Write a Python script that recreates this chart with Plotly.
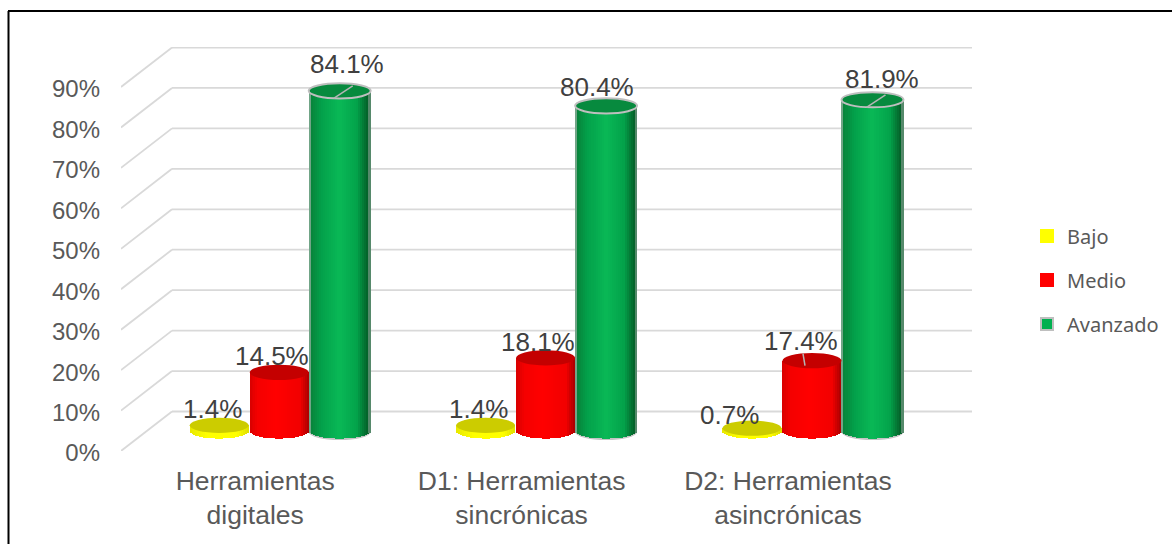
import plotly.graph_objects as go
import numpy as np

categories = ["Herramientas<br>digitales", "D1: Herramientas<br>sincrónicas", "D2: Herramientas<br>asincrónicas"]
bajo = [1.4, 1.4, 0.7]
medio = [14.5, 18.1, 17.4]
avanzado = [84.1, 80.4, 81.9]
y_ticks = [0, 10, 20, 30, 40, 50, 60, 70, 80, 90]

W, H = 1172, 544
PX_L, PX_R, PX_B, PX_T = 121, 972, 451, 47
UNIT_X = 266.4          # px per category
UNIT_Y = (451 - 87) / 90 # px per percent
DEPTH_X = 51 / UNIT_X
DEPTH_Y = 39.5 / UNIT_Y
MID_X = 25 / UNIT_X
MID_Y = 20 / UNIT_Y
ELL_H = 7.6 / UNIT_Y
STRIPS = 30

styles = [
    dict(name="Bajo", values=bajo, center_px=-60, width_px=59, top="#cccc00",
         stops=[(0, "#e8e800"), (.3, "#ffff00"), (.8, "#ffff00"), (1, "#dede00")],
         line=None, swatch="#ffff00"),
    dict(name="Medio", values=medio, center_px=0, width_px=59, top="#c40000",
         stops=[(0, "#d80000"), (.15, "#f50000"), (.45, "#ff0000"), (.85, "#f20000"), (1, "#a80000")],
         line=None, swatch="#ff0000"),
    dict(name="Avanzado", values=avanzado, center_px=60.5, width_px=62, top="#078a3e",
         stops=[(0, "#bdbdbd"), (.04, "#07843b"), (.2, "#03a04a"), (.5, "#09b856"), (.78, "#03a34b"),
                (.94, "#04672c"), (.97, "#04602a"), (1, "#bdbdbd")],
         line="#bfbfbf", swatch="#00b050"),
]
label_shift = {
    "Bajo": [(-7, 16), (-7, 16), (-23, 13)],
    "Medio": [(-7, 16), (-8, 16), (-11, 20)],
    "Avanzado": [(7, 27), (-9, 19), (9, 21)],
}


def mix(stops, t):
    for (a, ca), (b, cb) in zip(stops, stops[1:]):
        if t <= b:
            f = (t - a) / (b - a)
            c0 = [int(ca[i:i + 2], 16) for i in (1, 3, 5)]
            c1 = [int(cb[i:i + 2], 16) for i in (1, 3, 5)]
            return "#%02x%02x%02x" % tuple(round(p + (q - p) * f) for p, q in zip(c0, c1))
    return stops[-1][1]


fig = go.Figure()
shapes = []
annotations = []

# walls: front stub + back gridline per tick
back_end = 2.5 + (PX_R - PX_L - 3 * UNIT_X) / UNIT_X
for v in y_ticks:
    common = dict(type="line", xref="x", yref="y", layer="below", line=dict(color="#d9d9d9", width=1.8))
    shapes.append(dict(x0=-0.5, x1=-0.5 + DEPTH_X, y0=v, y1=v + DEPTH_Y, **common))
    shapes.append(dict(x0=-0.5 + DEPTH_X, x1=back_end, y0=v + DEPTH_Y, y1=v + DEPTH_Y, **common))

for st in styles:
    bar_w = st["width_px"] / UNIT_X
    xs, tops, bases, widths, colors = [], [], [], [], []
    for i, val in enumerate(st["values"]):
        cx = i + MID_X + st["center_px"] / UNIT_X
        y_top = MID_Y + val
        for k in range(STRIPS):
            t = (k + .5) / STRIPS
            u = 2 * t - 1
            curve = ELL_H * np.sqrt(max(0, 1 - u * u))
            xs.append(cx + u * bar_w / 2)
            bases.append(MID_Y - curve)
            tops.append(y_top)
            widths.append(bar_w / STRIPS * 1.15)
            colors.append(mix(st["stops"], t))
        # soft shadow under the outlined cylinders
        if st["line"]:
            shapes.append(dict(type="circle", xref="x", yref="y", layer="below",
                               x0=cx - bar_w / 2, x1=cx + bar_w / 2,
                               y0=MID_Y - ELL_H - 1.5 / UNIT_Y, y1=MID_Y + ELL_H,
                               fillcolor="#c4c4c4", line=dict(width=0)))
        # top cap
        cap_line = dict(color=st["line"], width=2) if st["line"] else dict(width=0)
        shapes.append(dict(type="circle", xref="x", yref="y", layer="above",
                           x0=cx - bar_w / 2, x1=cx + bar_w / 2,
                           y0=y_top - ELL_H, y1=y_top + ELL_H,
                           fillcolor=st["top"], line=cap_line))
        dx, dy = label_shift[st["name"]][i]
        annotations.append(dict(x=cx, y=y_top, xref="x", yref="y", text=f"{val:.1f}%", showarrow=False,
                                xshift=dx, yshift=dy, font=dict(family="Liberation Sans", size=26, color="#404040")))
    fig.add_trace(go.Bar(x=xs, y=[t - b for t, b in zip(tops, bases)], base=bases, width=widths,
                         marker=dict(color=colors, line=dict(width=0)), showlegend=False,
                         name=st["name"], hoverinfo="skip"))

# radial leader lines inside the caps
leaders = [(0, 84.1, 2), (2, 81.9, 2), (2, 17.4, 1)]
for i, val, s in leaders:
    cx = i + MID_X + styles[s]["center_px"] / UNIT_X
    y_top = MID_Y + val
    if s == 2:
        x0, x1, y0, y1 = cx - 6 / UNIT_X, cx + 13 / UNIT_X, y_top - ELL_H, y_top + 5 / UNIT_Y
    else:
        x0, x1, y0, y1 = cx - 7 / UNIT_X, cx - 9 / UNIT_X, y_top - 5 / UNIT_Y, y_top + 7 / UNIT_Y
    shapes.append(dict(type="line", xref="x", yref="y", layer="above", x0=x0, x1=x1, y0=y0, y1=y1,
                       line=dict(color="#b5b5b5", width=1.5)))

# legend-only entries
for k, st in enumerate(styles):
    fig.add_trace(go.Bar(x=[None], y=[None], name=st["name"], legendgroup=st["name"],
                         marker=dict(color=st["swatch"],
                                     line=dict(color=st["line"] or st["swatch"], width=2))))

# frame (top and left only are visible)
frame = dict(color="#000000", width=2)
shapes += [
    dict(type="line", xref="paper", yref="paper", x0=8.5 / W, x1=8.5 / W, y0=0, y1=1 - 11 / H, line=frame),
    dict(type="line", xref="paper", yref="paper", x0=8 / W, x1=1, y0=1 - 11 / H, y1=1 - 11 / H, line=frame),
]

fig.update_layout(
    width=W, height=H, margin=dict(l=0, r=0, t=0, b=0, pad=0, autoexpand=False),
    paper_bgcolor="white", plot_bgcolor="rgba(0,0,0,0)",
    barmode="overlay", bargap=0,
    shapes=shapes, annotations=annotations,
    xaxis=dict(domain=[PX_L / W, PX_R / W], range=[-0.5, back_end], tickvals=[0, 1, 2], ticktext=categories,
               showgrid=False, zeroline=False, showline=False, ticks="", ticklabelstandoff=11,
               ticklabelshift=1,
               tickfont=dict(family="Liberation Sans", size=26.5, color="#595959"), tickangle=0),
    yaxis=dict(domain=[1 - PX_B / H, 1 - PX_T / H], range=[0, (PX_B - PX_T) / UNIT_Y], tickvals=y_ticks,
               ticktext=[f"{v}%" for v in y_ticks], showgrid=False, zeroline=False, showline=False,
               ticks="", ticklabelstandoff=20, ticklabelshift=2,
               tickfont=dict(family="Liberation Sans", size=24, color="#595959")),
    legend=dict(x=1027 / W, y=1 - 216.5 / H, xanchor="left", yanchor="top", bgcolor="rgba(0,0,0,0)",
                tracegroupgap=15, itemwidth=30, traceorder="grouped",
                font=dict(family="Noto Sans", size=20, color="#595959")),
    showlegend=True,
)

fig.write_html("out.html", config={"displayModeBar": False},
               post_script="document.body.style.margin='0';")
